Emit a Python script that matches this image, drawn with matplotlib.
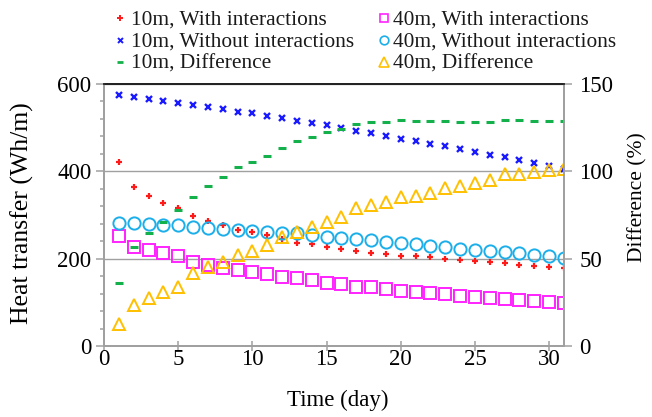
import matplotlib
matplotlib.use("Agg")
import matplotlib.pyplot as plt
from matplotlib.ticker import MultipleLocator
from matplotlib.lines import Line2D

plt.rcParams['font.family'] = ['Liberation Serif', 'DejaVu Serif']

days = list(range(1, 32))
with_10m = [422, 363, 344, 328, 315, 298, 286, 277, 265, 260, 254, 245, 237, 233, 226, 222,
            218, 214, 210, 206, 205, 203, 199, 197, 195, 192, 189, 186, 183, 180, 178]
without_10m = [575, 570, 565, 561, 557, 553, 548, 543, 537, 533, 527, 521, 516, 511, 505, 500,
               493, 488, 481, 475, 469, 463, 457, 451, 444, 438, 432, 426, 420, 413, 405]
diff_10m = [36.2, 56.9, 64.7, 70.8, 77.9, 85.5, 91.4, 96.6, 102.7, 105.3, 109.0, 113.2, 117.6,
            119.8, 122.7, 124.2, 126.9, 128.0, 128.4, 129.4, 128.8, 128.8, 128.8, 128.2, 128.4,
            128.4, 129.4, 129.2, 129.0, 128.8, 128.8]
with_40m = [252, 226, 220, 212, 206, 193, 186, 179, 174, 170, 165, 159, 155, 151, 145, 141,
            136, 134, 130, 127, 124, 121, 118, 115, 113, 109, 108, 105, 104, 101, 99]
without_40m = [282, 281, 279, 277, 276, 273, 271, 267, 266, 264, 260, 258, 258, 254, 250, 248,
               244, 242, 239, 235, 233, 230, 226, 222, 220, 218, 215, 212, 208, 205, 201]
diff_40m = [12.4, 23.5, 27.7, 30.7, 34.0, 41.6, 45.0, 47.9, 52.1, 54.6, 57.8, 62.6, 65.4, 68.3,
            71.2, 73.7, 78.8, 80.7, 82.6, 85.5, 86.1, 87.4, 90.3, 91.6, 93.1, 95.0, 98.3, 98.3,
            99.4, 100.8, 101.3]

labels = ['10m, With interactions', '10m, Without interactions', '10m, Difference',
          '40m, With interactions', '40m, Without interactions', '40m, Difference']

c_red = '#ff1a1a'
c_blue = '#1a1aff'
c_green = '#14b04b'
c_mag = '#ff22ff'
c_cyan = '#1aaeea'
c_orange = '#ffc000'

W, H = 652, 417
fig = plt.figure(figsize=(W / 100, H / 100), dpi=100)
ax = fig.add_axes([104 / W, 1 - 346 / H, 460 / W, 262 / H])
ax2 = ax.twinx()

gray = '#a0a0a0'
ax.set_xlim(0, 31)
ax.set_ylim(0, 600)
ax2.set_ylim(0, 150)

ax.yaxis.set_major_locator(MultipleLocator(200))
ax.yaxis.set_minor_locator(MultipleLocator(40))
ax.xaxis.set_major_locator(MultipleLocator(5))
ax2.yaxis.set_major_locator(MultipleLocator(50))

for a in (ax, ax2):
    for s in ('left', 'right', 'bottom'):
        a.spines[s].set_color(gray)
        a.spines[s].set_linewidth(1.3)
    a.spines['top'].set_color('#222222')
    a.spines['top'].set_linewidth(1.3)

ax.grid(axis='y', which='major', color=gray, linewidth=1.0)
ax.set_axisbelow(True)

ax.tick_params(axis='y', which='major', direction='out', length=6, width=1.1, color=gray,
               labelsize=16.5, pad=3)
ax.tick_params(axis='y', which='minor', direction='out', length=3, width=1.1, color=gray)
ax.tick_params(axis='x', which='major', direction='inout', length=7, width=1.1, color=gray,
               labelsize=16.5, pad=-1)
ax2.tick_params(axis='y', which='major', direction='out', length=6, width=1.1, color=gray,
                labelsize=16.5, pad=5)

ax.plot(days, with_10m, linestyle='none', marker='+', color=c_red, ms=5, mew=1.6)
ax.plot(days, without_10m, linestyle='none', marker='x', color=c_blue, ms=4.2, mew=1.7)
ax.plot(days, with_40m, linestyle='none', marker='s', mfc='none', mec=c_mag, ms=8.3, mew=1.4)
ax.plot(days, without_40m, linestyle='none', marker='o', mfc='none', mec=c_cyan, ms=8.8, mew=1.4)
ax2.plot(days, diff_10m, linestyle='none', marker='_', color=c_green, ms=5.5, mew=2.2)
ax2.plot(days, diff_40m, linestyle='none', marker='^', mfc='none', mec=c_orange, ms=9, mew=1.4)

ax.set_xlabel('Time (day)', fontsize=16.5)
ax.xaxis.set_label_coords(0.509, -0.168)
ax.set_ylabel('Heat transfer (Wh/m)', fontsize=18.5)
ax.yaxis.set_label_coords(-0.152, 0.508)
ax2.set_ylabel('Difference (%)', fontsize=15.5)
ax2.yaxis.set_label_coords(1.139, 0.569)

# legend (two columns, placed in figure pixels)
leg_styles = [
    dict(marker='+', color=c_red, ms=4.5, mew=1.4),
    dict(marker='x', color=c_blue, ms=3.6, mew=1.4),
    dict(marker='_', color=c_green, ms=5, mew=2.0),
    dict(marker='s', mfc='none', mec=c_mag, ms=6.2, mew=1.2),
    dict(marker='o', mfc='none', mec=c_cyan, ms=6.2, mew=1.2),
    dict(marker='^', mfc='none', mec=c_orange, ms=6.5, mew=1.2),
]
col_marker_x = [120, 384]
col_text_x = [131, 393]
row_base_y = [25, 47, 69]
for i, (lab, st) in enumerate(zip(labels, leg_styles)):
    c, r = divmod(i, 3)
    yb = row_base_y[r]
    fig.add_artist(Line2D([col_marker_x[c] / W], [1 - (yb - 7) / H], linestyle='none',
                          transform=fig.transFigure, **st))
    fig.text(col_text_x[c] / W, 1 - yb / H, lab, fontsize=15.4, va='baseline', ha='left',
             color='#1a1a1a')

fig.savefig('out.png', dpi=100)
